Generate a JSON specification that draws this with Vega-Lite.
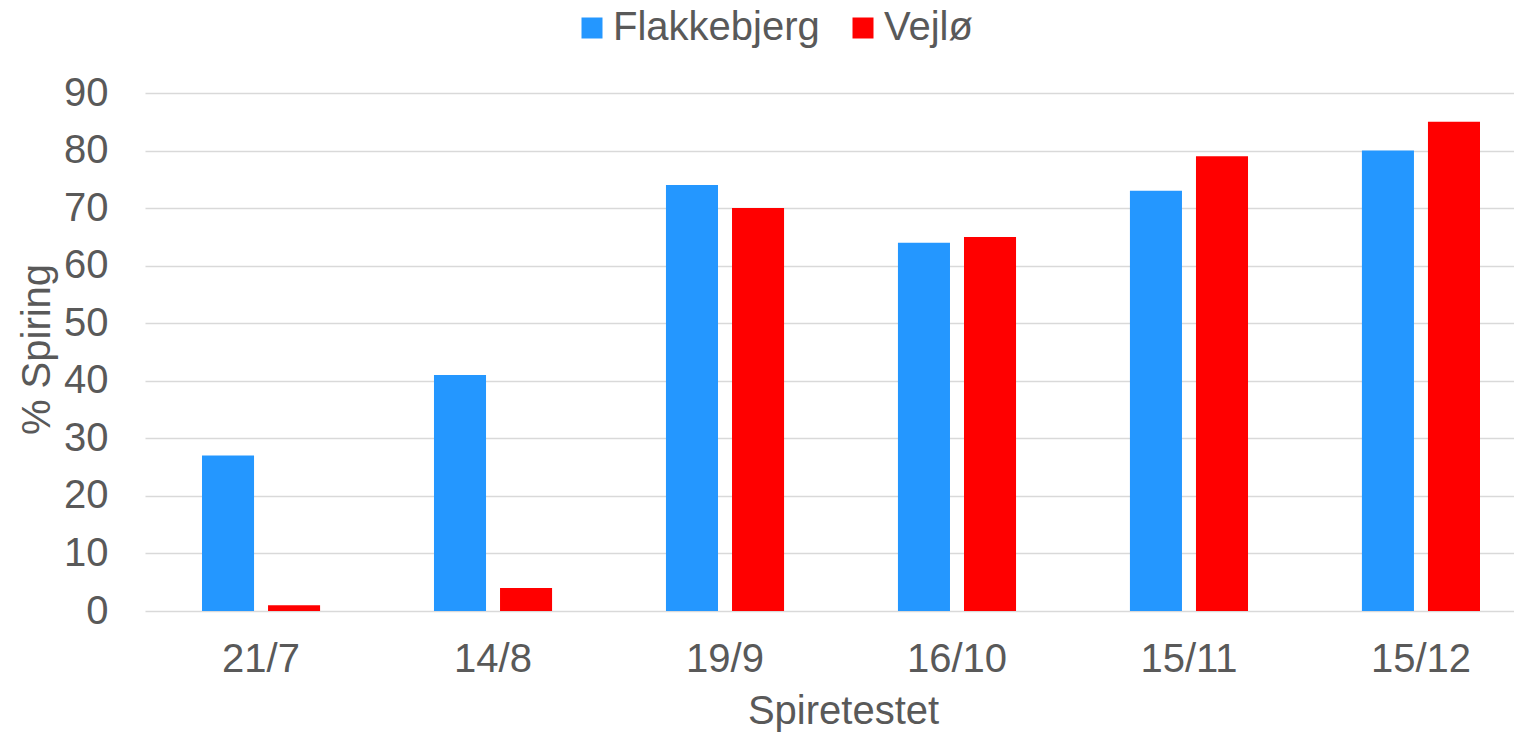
{
  "$schema": "https://vega.github.io/schema/vega-lite/v6.json",
  "autosize": {"type": "none"},
  "padding": {"left": 145, "top": 93, "right": 0, "bottom": 123},
  "width": 1369,
  "height": 518,
  "background": "white",
  "config": {
    "view": {"stroke": null},
    "font": "Liberation Sans",
    "text": {"font": "Liberation Sans"}
  },
  "data": {
    "values": [
      {"dato": "21/7", "sted": "Flakkebjerg", "spiring": 27},
      {"dato": "21/7", "sted": "Vejlø", "spiring": 1},
      {"dato": "14/8", "sted": "Flakkebjerg", "spiring": 41},
      {"dato": "14/8", "sted": "Vejlø", "spiring": 4},
      {"dato": "19/9", "sted": "Flakkebjerg", "spiring": 74},
      {"dato": "19/9", "sted": "Vejlø", "spiring": 70},
      {"dato": "16/10", "sted": "Flakkebjerg", "spiring": 64},
      {"dato": "16/10", "sted": "Vejlø", "spiring": 65},
      {"dato": "15/11", "sted": "Flakkebjerg", "spiring": 73},
      {"dato": "15/11", "sted": "Vejlø", "spiring": 79},
      {"dato": "15/12", "sted": "Flakkebjerg", "spiring": 80},
      {"dato": "15/12", "sted": "Vejlø", "spiring": 85}
    ]
  },
  "mark": {"type": "bar"},
  "encoding": {
    "x": {
      "field": "dato",
      "type": "nominal",
      "sort": null,
      "scale": {"range": [0, 1392], "paddingInner": 0.491, "paddingOuter": 0.2457},
      "axis": {
        "title": "Spiretestet",
        "labelAngle": 0,
        "labelFont": "Liberation Sans",
        "labelFontSize": 40,
        "labelColor": "#595959",
        "labelPadding": 28,
        "ticks": false,
        "domain": false,
        "titleFont": "Liberation Sans",
        "titleFontSize": 40,
        "titleFontWeight": "normal",
        "titleColor": "#595959",
        "titleBaseline": "alphabetic",
        "titleX": 698,
        "titleY": 112,
        "titleAnchor": "middle",
        "titleAlign": "center"
      }
    },
    "xOffset": {
      "field": "sted",
      "type": "nominal",
      "sort": ["Flakkebjerg", "Vejlø"],
      "scale": {"paddingInner": 0.212, "paddingOuter": 0}
    },
    "y": {
      "field": "spiring",
      "type": "quantitative",
      "scale": {"domain": [0, 90], "nice": false},
      "axis": {
        "title": "% Spiring",
        "values": [0, 10, 20, 30, 40, 50, 60, 70, 80, 90],
        "labelFont": "Liberation Sans",
        "labelFontSize": 40,
        "labelColor": "#595959",
        "labelPadding": 37,
        "ticks": false,
        "domain": false,
        "grid": true,
        "gridColor": "#D9D9D9",
        "gridWidth": 1.5,
        "titleFont": "Liberation Sans",
        "titleFontSize": 40,
        "titleFontWeight": "normal",
        "titleColor": "#595959",
        "titleAngle": -90,
        "titleBaseline": "alphabetic",
        "titleAlign": "center",
        "titleX": -96,
        "titleY": 256
      }
    },
    "color": {
      "field": "sted",
      "type": "nominal",
      "sort": ["Flakkebjerg", "Vejlø"],
      "scale": {"domain": ["Flakkebjerg", "Vejlø"], "range": ["#2497FF", "#FF0000"]},
      "legend": {
        "title": null,
        "orient": "none",
        "direction": "horizontal",
        "legendX": 427,
        "legendY": -85,
        "padding": 0,
        "symbolType": "square",
        "symbolSize": 441,
        "symbolStrokeWidth": 0,
        "symbolOpacity": 1,
        "labelFont": "Liberation Sans",
        "labelFontSize": 40,
        "labelColor": "#595959",
        "labelOffset": 1,
        "labelLimit": 0,
        "columnPadding": 23
      }
    }
  }
}
